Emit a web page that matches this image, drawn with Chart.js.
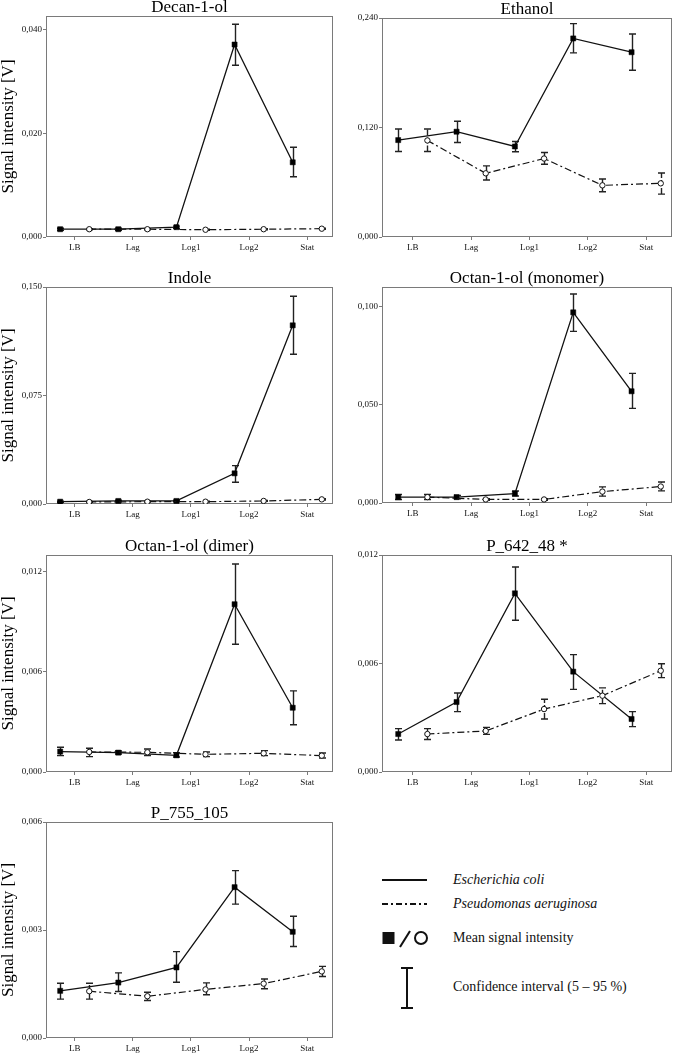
<!DOCTYPE html>
<html><head><meta charset="utf-8">
<script src="https://cdn.jsdelivr.net/npm/chart.js@4.4.1/dist/chart.umd.min.js"></script>
<style>
html,body{margin:0;padding:0;background:#fff;}
body{width:677px;height:1053px;position:relative;overflow:hidden;font-family:'Liberation Serif','Times New Roman',serif;}
canvas{position:absolute;}
.lg{position:absolute;left:453px;font-size:14px;color:#111;line-height:16px;white-space:nowrap;}
svg{position:absolute;left:0;top:0;}
</style></head><body>
<svg width="677" height="1053">
  <line x1="382" y1="880" x2="427" y2="880" stroke="#111" stroke-width="2"/>
  <line x1="382" y1="904" x2="427" y2="904" stroke="#111" stroke-width="2" stroke-dasharray="6,3,2,3"/>
  <rect x="382.5" y="932" width="12" height="12" fill="#111"/>
  <line x1="400" y1="947" x2="410" y2="931" stroke="#111" stroke-width="2"/>
  <circle cx="421" cy="938" r="6" fill="none" stroke="#111" stroke-width="2"/>
  <line x1="407" y1="968" x2="407" y2="1008" stroke="#111" stroke-width="2"/>
  <line x1="401" y1="968" x2="413" y2="968" stroke="#111" stroke-width="2"/>
  <line x1="401" y1="1008" x2="413" y2="1008" stroke="#111" stroke-width="2"/>
</svg>
<div class="lg" style="top:872px;font-style:italic">Escherichia coli</div>
<div class="lg" style="top:896px;font-style:italic">Pseudomonas aeruginosa</div>
<div class="lg" style="top:930px">Mean signal intensity</div>
<div class="lg" style="top:979px">Confidence interval (5 – 95 %)</div>
<script>
const categories = ['LB', 'Lag', 'Log1', 'Log2', 'Stat'];

// Decan-1-ol
const decanEc   = [0.0015, 0.0015, 0.0019, 0.0371, 0.0144];
const decanEcLo = [0.0013, 0.0013, 0.0017, 0.0331, 0.0116];
const decanEcHi = [0.0017, 0.0017, 0.0021, 0.0410, 0.0173];
const decanPa   = [0.0015, 0.0015, 0.0014, 0.0015, 0.0016];
const decanPaLo = [0.0014, 0.0014, 0.0013, 0.0014, 0.0015];
const decanPaHi = [0.0016, 0.0016, 0.0015, 0.0016, 0.0017];
const decanTicks = [0, 0.02, 0.04];

// Ethanol
const ethEc   = [0.1062, 0.1154, 0.0992, 0.2176, 0.2025];
const ethEcLo = [0.0937, 0.1036, 0.0934, 0.2018, 0.1827];
const ethEcHi = [0.1183, 0.1268, 0.1047, 0.2338, 0.2224];
const ethPa   = [0.1058, 0.0698, 0.0860, 0.0566, 0.0588];
const ethPaLo = [0.0937, 0.0625, 0.0798, 0.0496, 0.0470];
const ethPaHi = [0.1183, 0.0779, 0.0926, 0.0636, 0.0702];
const ethTicks = [0, 0.12, 0.24];

// Indole
const indEc   = [0.0016, 0.0021, 0.0021, 0.0212, 0.1235];
const indEcLo = [0.0012, 0.0016, 0.0016, 0.0150, 0.1035];
const indEcHi = [0.0020, 0.0026, 0.0026, 0.0265, 0.1436];
const indPa   = [0.0014, 0.0016, 0.0016, 0.0021, 0.0032];
const indPaLo = [0.0011, 0.0013, 0.0013, 0.0018, 0.0028];
const indPaHi = [0.0017, 0.0019, 0.0019, 0.0024, 0.0036];
const indTicks = [0, 0.075, 0.15];

// Octan-1-ol (monomer)
const monEc   = [0.0030, 0.0030, 0.0048, 0.0971, 0.0569];
const monEcLo = [0.0018, 0.0022, 0.0036, 0.0874, 0.0482];
const monEcHi = [0.0043, 0.0039, 0.0061, 0.1064, 0.0660];
const monPa   = [0.0030, 0.0018, 0.0018, 0.0058, 0.0084];
const monPaLo = [0.0018, 0.0014, 0.0014, 0.0035, 0.0062];
const monPaHi = [0.0043, 0.0022, 0.0022, 0.0082, 0.0107];
const monTicks = [0, 0.05, 0.1];

// Octan-1-ol (dimer)
const dimEc   = [0.00122, 0.00116, 0.00100, 0.01005, 0.00385];
const dimEcLo = [0.00098, 0.00108, 0.00090, 0.00765, 0.00283];
const dimEcHi = [0.00148, 0.00126, 0.00116, 0.01246, 0.00486];
const dimPa   = [0.00120, 0.00118, 0.00106, 0.00112, 0.00098];
const dimPaLo = [0.00092, 0.00098, 0.00092, 0.00098, 0.00084];
const dimPaHi = [0.00142, 0.00138, 0.00120, 0.00128, 0.00114];
const dimTicks = [0, 0.006, 0.012];

// P_642_48 *
const p642Ec   = [0.00210, 0.00387, 0.00988, 0.00555, 0.00293];
const p642EcLo = [0.00177, 0.00334, 0.00839, 0.00457, 0.00251];
const p642EcHi = [0.00240, 0.00437, 0.01134, 0.00649, 0.00334];
const p642Pa   = [0.00210, 0.00227, 0.00348, 0.00422, 0.00560];
const p642PaLo = [0.00180, 0.00208, 0.00293, 0.00378, 0.00522];
const p642PaHi = [0.00240, 0.00247, 0.00402, 0.00465, 0.00599];
const p642Ticks = [0, 0.006, 0.012];

// P_755_105
const p755Ec   = [0.00131, 0.00154, 0.00196, 0.00419, 0.00295];
const p755EcLo = [0.00108, 0.00129, 0.00155, 0.00372, 0.00254];
const p755EcHi = [0.00152, 0.00181, 0.00240, 0.00465, 0.00338];
const p755Pa   = [0.00130, 0.00116, 0.00135, 0.00151, 0.00185];
const p755PaLo = [0.00108, 0.00104, 0.00120, 0.00137, 0.00171];
const p755PaHi = [0.00152, 0.00127, 0.00153, 0.00164, 0.00199];
const p755Ticks = [0, 0.003, 0.006];

const panels = [
  {title:'Decan-1-ol', ec:decanEc, ecLo:decanEcLo, ecHi:decanEcHi, pa:decanPa, paLo:decanPaLo, paHi:decanPaHi, ticks:decanTicks, ymax:0.0426, col:0, area:[46,16,336,237]},
  {title:'Ethanol', ec:ethEc, ecLo:ethEcLo, ecHi:ethEcHi, pa:ethPa, paLo:ethPaLo, paHi:ethPaHi, ticks:ethTicks, ymax:0.24, col:1, area:[382,18,674,237]},
  {title:'Indole', ec:indEc, ecLo:indEcLo, ecHi:indEcHi, pa:indPa, paLo:indPaLo, paHi:indPaHi, ticks:indTicks, ymax:0.15, col:0, area:[46,287,336,504]},
  {title:'Octan-1-ol (monomer)', ec:monEc, ecLo:monEcLo, ecHi:monEcHi, pa:monPa, paLo:monPaLo, paHi:monPaHi, ticks:monTicks, ymax:0.110, col:1, area:[382,287,674,503]},
  {title:'Octan-1-ol (dimer)', ec:dimEc, ecLo:dimEcLo, ecHi:dimEcHi, pa:dimPa, paLo:dimPaLo, paHi:dimPaHi, ticks:dimTicks, ymax:0.013, col:0, area:[46,555,336,772]},
  {title:'P_642_48 *', ec:p642Ec, ecLo:p642EcLo, ecHi:p642EcHi, pa:p642Pa, paLo:p642PaLo, paHi:p642PaHi, ticks:p642Ticks, ymax:0.012, col:1, area:[382,555,674,772]},
  {title:'P_755_105', ec:p755Ec, ecLo:p755EcLo, ecHi:p755EcHi, pa:p755Pa, paLo:p755PaLo, paHi:p755PaHi, ticks:p755Ticks, ymax:0.006, col:0, area:[46,822,336,1038]}
];

const DASH = [7, 3, 2, 3];
const FONT = "'Liberation Serif', 'Times New Roman', serif";

const boxPlugin = {
  id: 'box',
  beforeDatasetsDraw(chart) {
    const ca = chart.chartArea, ctx = chart.ctx;
    ctx.save();
    ctx.strokeStyle = '#7a7a7a';
    ctx.lineWidth = 1;
    ctx.strokeRect(Math.round(ca.left) + 0.5, Math.round(ca.top) + 0.5,
                   Math.round(ca.right - ca.left) - 1, Math.round(ca.bottom - ca.top) - 1);
    ctx.restore();
  }
};

const errPlugin = {
  id: 'err',
  beforeDatasetsDraw(chart) {
    const ctx = chart.ctx, xs = chart.scales.x, ys = chart.scales.y;
    chart.data.datasets.forEach(ds => {
      ds.data.forEach((pt, i) => {
        const px = Math.round(xs.getPixelForValue(pt.x)) + 0.5;
        const yl = ys.getPixelForValue(ds.lo[i]);
        const yh = ys.getPixelForValue(ds.hi[i]);
        ctx.save();
        ctx.strokeStyle = '#222';
        ctx.lineWidth = 1.4;
        ctx.setLineDash(ds.errDash || []);
        ctx.beginPath(); ctx.moveTo(px, yl); ctx.lineTo(px, yh); ctx.stroke();
        ctx.setLineDash([]);
        ctx.beginPath();
        ctx.moveTo(px - 3.5, yl); ctx.lineTo(px + 3.5, yl);
        ctx.moveTo(px - 3.5, yh); ctx.lineTo(px + 3.5, yh);
        ctx.stroke();
        ctx.restore();
      });
    });
  }
};

const TITLE_H = 17, XAX_H = 22;

panels.forEach(p => {
  const colLeft = p.col === 0 ? 0 : 338;
  const colW = p.col === 0 ? 338 : 339;
  const [L, T, R, B] = p.area;
  const cv = document.createElement('canvas');
  const h = (B - T) + TITLE_H + XAX_H;
  cv.width = colW; cv.height = h;
  cv.style.left = colLeft + 'px';
  cv.style.top = (T - TITLE_H) + 'px';
  cv.style.width = colW + 'px';
  cv.style.height = h + 'px';
  document.body.appendChild(cv);
  const xmin = p.col === 0 ? -0.494 : -0.528;
  new Chart(cv, {
    type: 'line',
    data: {
      datasets: [
        {
          label: 'Pseudomonas aeruginosa',
          data: p.pa.map((v, i) => ({x: i + 0.25, y: v})),
          lo: p.paLo, hi: p.paHi, errDash: [6, 2],
          borderColor: '#111', borderWidth: 1.2, borderDash: DASH,
          pointStyle: 'circle', pointRadius: 2.7,
          pointBackgroundColor: '#fff', pointBorderColor: '#111', pointBorderWidth: 1,
          tension: 0, fill: false
        },
        {
          label: 'Escherichia coli',
          data: p.ec.map((v, i) => ({x: i - 0.25, y: v})),
          lo: p.ecLo, hi: p.ecHi,
          borderColor: '#111', borderWidth: 1.3,
          pointStyle: 'rect', pointRadius: 3.6,
          pointBackgroundColor: '#000', pointBorderColor: '#000', pointBorderWidth: 0.5,
          tension: 0, fill: false
        }
      ]
    },
    options: {
      responsive: false, animation: false, devicePixelRatio: 1,
      layout: {padding: {left: 0, top: 0, right: colLeft + colW - R, bottom: 0}},
      plugins: {
        legend: {display: false},
        tooltip: {enabled: false},
        title: {
          display: true, text: p.title, fullSize: false, color: '#000',
          font: {family: FONT, size: 17, weight: 'normal', lineHeight: 1},
          padding: {top: 0, bottom: 0}
        }
      },
      scales: {
        x: {
          type: 'linear', min: xmin, max: 4.443,
          afterFit: s => { s.height = XAX_H; },
          afterBuildTicks: s => { s.ticks = categories.map((c, i) => ({value: i})); },
          ticks: {
            callback: v => categories[v],
            font: {family: FONT, size: 9}, color: '#111', padding: 2,
            maxRotation: 0, autoSkip: false
          },
          grid: {display: true, drawOnChartArea: false, tickLength: 3, color: '#7a7a7a'},
          border: {display: false}
        },
        y: {
          min: 0, max: p.ymax,
          afterFit: s => { s.width = L - colLeft; },
          afterBuildTicks: s => { s.ticks = p.ticks.map(v => ({value: v})); },
          ticks: {
            callback: v => v.toFixed(3).replace('.', ','),
            font: {family: FONT, size: 9}, color: '#111', padding: 1
          },
          grid: {display: true, drawOnChartArea: false, tickLength: 3, color: '#7a7a7a'},
          border: {display: false},
          title: {
            display: p.col === 0, text: 'Signal intensity [V]', color: '#000',
            font: {family: FONT, size: 17, lineHeight: 1},
            padding: {top: 0, bottom: 0}
          }
        }
      }
    },
    plugins: [boxPlugin, errPlugin]
  });
});
</script>
</body></html>
